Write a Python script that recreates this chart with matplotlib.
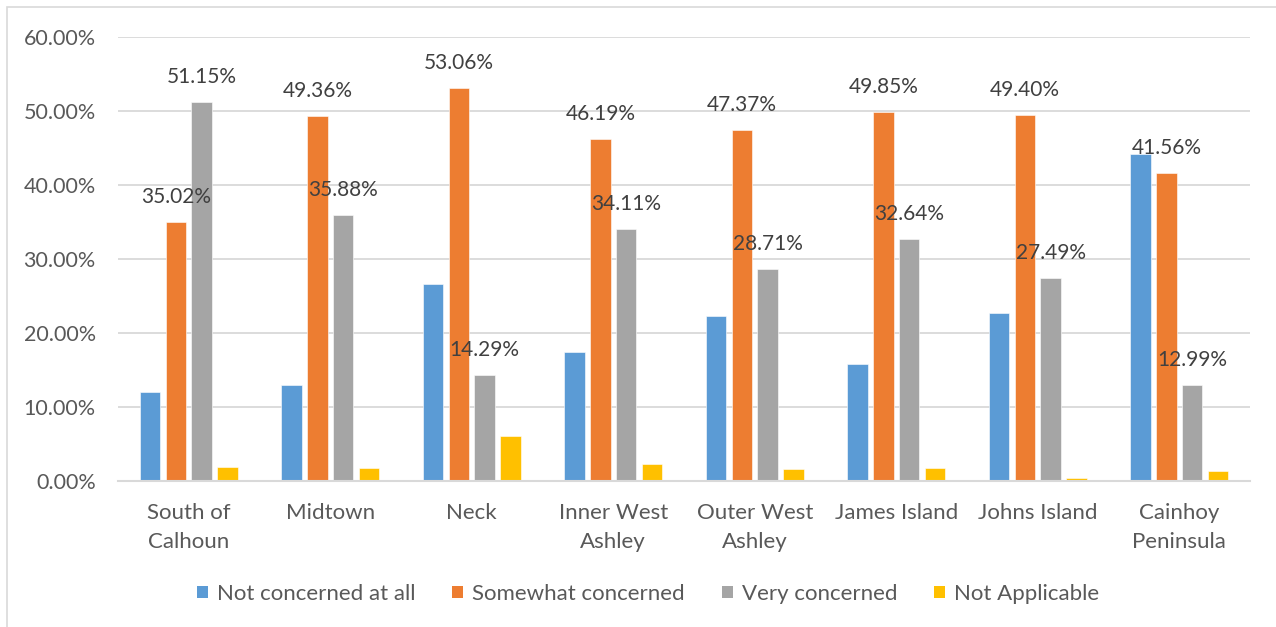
import numpy as np
import matplotlib.pyplot as plt
from matplotlib.patches import Patch, Rectangle
from matplotlib.ticker import PercentFormatter

plt.rcParams['font.family'] = ['Lato', 'DejaVu Sans']

categories = ["South of\nCalhoun", "Midtown", "Neck", "Inner West\nAshley",
              "Outer West\nAshley", "James Island", "Johns Island", "Cainhoy\nPeninsula"]
series = ["Not concerned at all", "Somewhat concerned", "Very concerned", "Not Applicable"]

not_concerned = [12.03, 13.00, 26.58, 17.39, 22.25, 15.77, 22.75, 44.16]
somewhat = [35.02, 49.36, 53.06, 46.19, 47.37, 49.85, 49.40, 41.56]
very = [51.15, 35.88, 14.29, 34.11, 28.71, 32.64, 27.49, 12.99]
not_applicable = [1.89, 1.80, 6.12, 2.34, 1.66, 1.76, 0.40, 1.30]

colors = ["#5B9BD5", "#ED7D31", "#A5A5A5", "#FFC000"]
values = [not_concerned, somewhat, very, not_applicable]
labelled = [False, True, True, False]

fig = plt.figure(figsize=(12.76, 6.27), dpi=100)
ax = fig.add_axes([118/1276, 1-481/627, (1250-118)/1276, (481-37)/627])

# light frame of the chart area (only left/top visible in the picture)
fig.patches.append(Rectangle((7/1276, -0.1), 1.2, 1-7/627+0.1, transform=fig.transFigure,
                             fill=False, edgecolor="#D9D9D9", linewidth=1.2))

x = np.arange(len(categories))
pitch = 0.182
width = 0.145
for i, (vals, c) in enumerate(zip(values, colors)):
    pos = x + (i - 1.5) * pitch
    bars = ax.bar(pos, vals, width, color=c, edgecolor="white", linewidth=0.4, zorder=3)
    if labelled[i]:
        for xp, v in zip(pos, vals):
            ax.annotate(f"{v:.2f}%", (xp, v), xytext=(0, 18), textcoords="offset points",
                        ha="center", va="center", fontsize=15, color="#404040", zorder=5)

ax.set_xlim(-0.5, len(categories) - 0.5)
ax.set_ylim(0, 60)
ax.set_yticks(np.arange(0, 61, 10))
ax.yaxis.set_major_formatter(PercentFormatter(decimals=2))
ax.grid(axis="y", color="#D9D9D9", linewidth=1.3, zorder=0)
for s in ["top", "right", "left"]:
    ax.spines[s].set_visible(False)
ax.spines["bottom"].set_color("#D9D9D9")
ax.spines["bottom"].set_linewidth(1.5)
ax.spines["bottom"].set_zorder(4)

ax.set_xticks(x)
ax.set_xticklabels(categories, linespacing=1.55)
ax.tick_params(axis="both", length=0, labelsize=16, labelcolor="#595959")
ax.tick_params(axis="y", labelsize=15.5, pad=16)
ax.tick_params(axis="x", pad=16)

handles = [Patch(facecolor=c, label=s) for c, s in zip(colors, series)]
fig.legend(handles=handles, loc="center", bbox_to_anchor=(648/1276, 1-594/627), ncol=4,
           frameon=False, fontsize=16, labelcolor="#595959", handlelength=0.5,
           handleheight=0.5, handletextpad=0.4, columnspacing=1.65)

fig.savefig("out.png", dpi=100)
